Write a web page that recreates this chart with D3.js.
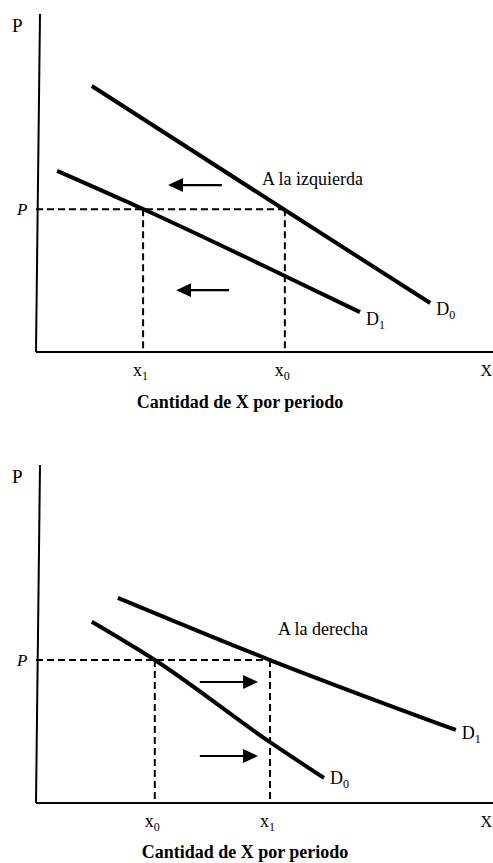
<!DOCTYPE html>
<html>
<head>
<meta charset="utf-8">
<script src="https://cdn.jsdelivr.net/npm/d3@7.9.0/dist/d3.min.js"></script>
<style>
  html, body { margin: 0; padding: 0; background: #fff; }
  svg { display: block; font-family: "Liberation Serif", "Times New Roman", serif; }
</style>
</head>
<body>
<svg id="chart" width="493" height="863"></svg>
<script>
// Values, in chart units (quantity 0-100, price 0-100)
const axisTitle = 'Cantidad de X por periodo';

// Top panel: demand shifts to the left
const topTitle = 'A la izquierda';
const topD0 = [[12.4, 78.7], [55.3, 42.0], [87.6, 14.5]];
const topD1 = [[4.7, 53.6], [23.8, 42.3], [55.3, 22.5], [72, 11.8]];
const topPrice = 42.2;
const topQty = [23.8, 55.3];          // x1, x0
const topQtyLabels = [['x', '1'], ['x', '0']];
const topArrows = [[41.3, 29.8, 49.4], [42.9, 31.6, 18.3]]; // from, to, price

// Bottom panel: demand shifts to the right
const botTitle = 'A la derecha';
const botD0 = [[12.4, 53.6], [26.4, 42.3], [52, 18.0], [64, 7.4]];
const botD1 = [[18.2, 60.7], [52, 42.3], [93.3, 21.6]];
const botPrice = 42.3;
const botQty = [26.4, 52];            // x0, x1
const botQtyLabels = [['x', '0'], ['x', '1']];
const botArrows = [[36.4, 48.9, 35.8], [36.4, 48.9, 13.9]];

const svg = d3.select('#chart');

svg.append('defs').append('marker')
    .attr('id', 'head')
    .attr('markerUnits', 'userSpaceOnUse')
    .attr('viewBox', '0 0 15 14')
    .attr('refX', 13).attr('refY', 7)
    .attr('markerWidth', 15).attr('markerHeight', 14)
    .attr('orient', 'auto')
    .append('path')
    .attr('d', 'M0,0 L15,7 L0,14 Z')
    .attr('fill', '#000');

function drawPanel(top, panel) {
    const x = d3.scaleLinear().domain([0, 100]).range([36, 486]);
    const y = d3.scaleLinear().domain([0, 100]).range([top + 338, top]);
    const g = svg.append('g');
    const line = d3.line().x(d => x(d[0])).y(d => y(d[1])).curve(d3.curveMonotoneX);

    // axes
    g.append('line')
        .attr('x1', x(0)).attr('y1', y(0))
        .attr('x2', x(0) + 4).attr('y2', y(100))
        .attr('stroke', '#000').attr('stroke-width', 2);
    g.append('line')
        .attr('x1', x(0)).attr('y1', y(0))
        .attr('x2', 493).attr('y2', y(0))
        .attr('stroke', '#000').attr('stroke-width', 2);

    g.append('text').attr('x', 12).attr('y', y(100) + 18)
        .attr('font-size', 19).text('P');
    g.append('text').attr('x', 492).attr('y', y(0) + 24)
        .attr('font-size', 16).attr('text-anchor', 'end').text('X');

    // dashed guides
    const dash = { 'stroke': '#000', 'stroke-width': 2, 'stroke-dasharray': '7,4' };
    const h = g.append('line')
        .attr('x1', x(0)).attr('x2', x(d3.max(panel.qty)))
        .attr('y1', y(panel.price)).attr('y2', y(panel.price));
    Object.entries(dash).forEach(([k, v]) => h.attr(k, v));
    panel.qty.forEach(q => {
        const v = g.append('line')
            .attr('x1', x(q)).attr('x2', x(q))
            .attr('y1', y(panel.price)).attr('y2', y(0));
        Object.entries(dash).forEach(([k, val]) => v.attr(k, val));
    });

    g.append('text').attr('x', 17).attr('y', y(panel.price) + 6)
        .attr('font-size', 17).attr('font-style', 'italic').text('P');

    // demand curves
    panel.curves.forEach(c => {
        g.append('path')
            .attr('d', line(c.pts))
            .attr('fill', 'none').attr('stroke', '#000')
            .attr('stroke-width', 4);
        const end = c.pts[c.pts.length - 1];
        const t = g.append('text')
            .attr('x', x(end[0]) + 6).attr('y', y(end[1]) + c.dy)
            .attr('font-size', 18);
        t.append('tspan').text('D');
        t.append('tspan').attr('font-size', 12).attr('dy', 4).text(c.sub);
    });

    // quantity labels
    panel.qty.forEach((q, i) => {
        const t = g.append('text')
            .attr('x', x(q) - 10).attr('y', y(0) + 24)
            .attr('font-size', 18);
        t.append('tspan').text(panel.qtyLabels[i][0]);
        t.append('tspan').attr('font-size', 12).attr('dy', 4).text(panel.qtyLabels[i][1]);
    });

    // shift arrows
    panel.arrows.forEach(a => {
        g.append('line')
            .attr('x1', x(a[0])).attr('y1', y(a[2]))
            .attr('x2', x(a[1])).attr('y2', y(a[2]))
            .attr('stroke', '#000').attr('stroke-width', 2.2)
            .attr('marker-end', 'url(#head)');
    });

    g.append('text').attr('x', panel.titleX).attr('y', panel.titleY)
        .attr('font-size', 18).text(panel.title);

    g.append('text').attr('x', panel.axisX).attr('y', panel.axisY)
        .attr('font-size', 18).attr('font-weight', 'bold')
        .attr('text-anchor', 'middle').text(axisTitle);
}

drawPanel(14, {
    title: topTitle, titleX: 262, titleY: 185,
    axisX: 240, axisY: 408,
    price: topPrice, qty: topQty, qtyLabels: topQtyLabels, arrows: topArrows,
    curves: [{ pts: topD0, sub: '0', dy: 12 }, { pts: topD1, sub: '1', dy: 13 }]
});

drawPanel(465, {
    title: botTitle, titleX: 278, titleY: 635,
    axisX: 245, axisY: 858,
    price: botPrice, qty: botQty, qtyLabels: botQtyLabels, arrows: botArrows,
    curves: [{ pts: botD0, sub: '0', dy: 6 }, { pts: botD1, sub: '1', dy: 9 }]
});
</script>
</body>
</html>
